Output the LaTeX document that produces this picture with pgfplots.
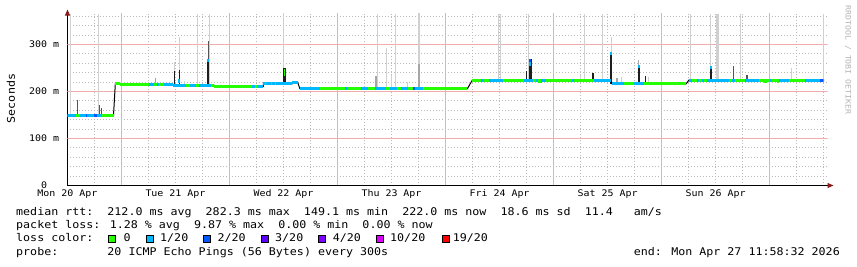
\documentclass[border=0pt]{standalone}
\usepackage{fontspec}
\setmainfont{DejaVu Sans Mono}
\newfontfamily\lgd[FakeStretch=1.1]{DejaVu Sans Mono}
\newcommand\lgdfont{\lgd\fontsize{10.6}{13}\selectfont}
\newcommand\tickfont{\lgd\fontsize{9.06}{11}\selectfont}
\newcommand\sidefont{\lgd\fontsize{7.5}{9}\selectfont}
\usepackage{pgfplots}
\pgfplotsset{compat=1.18}
\usetikzlibrary{arrows.meta}
\definecolor{c0}{HTML}{26FF00}
\definecolor{c1}{HTML}{00B8FF}
\definecolor{c2}{HTML}{0059FF}
\definecolor{c3}{HTML}{5E00FF}
\definecolor{c4}{HTML}{7E00FF}
\definecolor{c10}{HTML}{DD00FF}
\definecolor{c19}{HTML}{FF0000}
\definecolor{gridgray}{HTML}{BABABA}
\definecolor{gridred}{HTML}{F2AAAA}
\definecolor{smoke}{HTML}{D0D0D0}
\definecolor{smokemid}{HTML}{A6A6A6}
\definecolor{smokedark}{HTML}{1E1E1E}
\definecolor{smokedim}{HTML}{555555}
\definecolor{arrowred}{HTML}{8B1A1A}
\definecolor{sidegray}{HTML}{B4B4B4}
\tikzset{rgrid/.style={draw=gridred, line width=1pt}}
\begin{document}
\begin{tikzpicture}[x=1pt,y=1pt]
\path[use as bounding box] (0,0) rectangle (857,267);
\begin{axis}[
  at={(67.5pt,81.5pt)}, anchor=south west,
  scale only axis, width=760pt, height=172.96pt,
  xmin=0, xmax=7.037037, ymin=0, ymax=368,
  axis lines=left,
  axis line style={black, line width=1pt},
  every outer x axis line/.append style={-{Triangle[length=6pt,width=5pt,color=arrowred]}, shorten >=-6pt},
  every outer y axis line/.append style={-{Triangle[length=6pt,width=5pt,color=arrowred]}, shorten >=-3pt},
  major tick length=0pt, minor tick length=0pt,
  xtick={0,1,2,3,4,5,6},
  xticklabels={Mon 20 Apr,Tue 21 Apr,Wed 22 Apr,Thu 23 Apr,Fri 24 Apr,Sat 25 Apr,Sun 26 Apr},
  minor xtick={0.25,0.75,1,1.25,1.75,2,2.25,2.75,3,3.25,3.75,4,4.25,4.75,5,5.25,5.75,6,6.25,6.75,7},
  xmajorgrids=false, xminorgrids=true,
  ytick={0,100,200,300},
  yticklabels={0\phantom{~m},100~m,200~m,300~m},
  minor ytick={20,40,60,80,120,140,160,180,220,240,260,280,320,340,360},
  ymajorgrids=false, yminorgrids=true,
  minor grid style={draw=gridgray, line width=1pt, dash pattern=on 1pt off 2pt, dash phase=0.5pt},
  xticklabel style={font=\tickfont, anchor=base, inner sep=0pt, yshift=-11.5pt},
  yticklabel style={font=\tickfont, anchor=east, inner sep=0pt, xshift=-8.2pt},
  ylabel={Seconds},
  ylabel style={font=\lgdfont, at={(axis description cs:-0.0743,0.503)}, anchor=center},
  unbounded coords=jump,
]
% major (12 h / 100 ms) grid lines
\draw[rgrid] (axis cs:0.5,0) -- (axis cs:0.5,368);
\draw[rgrid] (axis cs:1.5,0) -- (axis cs:1.5,368);
\draw[rgrid] (axis cs:2.5,0) -- (axis cs:2.5,368);
\draw[rgrid] (axis cs:3.5,0) -- (axis cs:3.5,368);
\draw[rgrid] (axis cs:4.5,0) -- (axis cs:4.5,368);
\draw[rgrid] (axis cs:5.5,0) -- (axis cs:5.5,368);
\draw[rgrid] (axis cs:6.5,0) -- (axis cs:6.5,368);
\draw[rgrid] (axis cs:0,100) -- (axis cs:7.037037,100);
\draw[rgrid] (axis cs:0,200) -- (axis cs:7.037037,200);
\draw[rgrid] (axis cs:0,300) -- (axis cs:7.037037,300);
% light smoke
\addplot[smoke, line width=1pt] coordinates {
(0.030,149) (0.030,365) (0.030,nan)
(0.289,149) (0.289,365) (0.289,nan)
(0.991,213) (0.991,262) (0.991,nan)
(1.037,213) (1.037,316) (1.037,nan)
(1.080,213) (1.080,222) (1.080,nan)
(1.207,213) (1.207,365) (1.207,nan)
(1.314,213) (1.314,365) (1.314,nan)
(1.997,216) (1.997,366) (1.997,nan)
(2.874,206) (2.874,365) (2.874,nan)
(2.958,206) (2.958,292) (2.958,nan)
(2.998,206) (2.998,236) (2.998,nan)
(3.035,206) (3.035,365) (3.035,nan)
(3.146,206) (3.146,220) (3.146,nan)
(3.989,224) (3.989,365) (3.989,nan)
(4.011,224) (4.011,365) (4.011,nan)
(4.266,224) (4.266,365) (4.266,nan)
(4.753,224) (4.753,236) (4.753,nan)
(4.783,224) (4.783,365) (4.783,nan)
(4.952,224) (4.952,365) (4.952,nan)
(5.036,224) (5.036,315) (5.036,nan)
(5.128,216) (5.128,230) (5.128,nan)
(5.377,216) (5.377,230) (5.377,nan)
(5.768,224) (5.768,365) (5.768,nan)
(5.952,224) (5.952,365) (5.952,nan)
(6.230,224) (6.230,365) (6.230,nan)
(6.706,224) (6.706,251) (6.706,nan)
(6.999,224) (6.999,365) (6.999,nan)
};
\addplot[smoke, line width=2.5pt] coordinates {
(3.253,206) (3.253,366) (3.253,nan)
(6.018,224) (6.018,365) (6.018,nan)
};
\addplot[smokemid, line width=2pt] coordinates {
(2.860,206) (2.860,234) (2.860,nan)
(3.258,206) (3.258,258) (3.258,nan)
(5.085,216) (5.085,229) (5.085,nan)
};
\addplot[smokemid, line width=1pt] coordinates {
(5.291,216) (5.291,268) (5.291,nan)
(0.819,214) (0.819,228) (0.819,nan)
};
% dark smoke
\addplot[smokedim, line width=1.2pt] coordinates {
(0.090,149) (0.090,181) (0.090,nan)
(0.298,149) (0.298,172) (0.298,nan)
(0.312,149) (0.312,165) (0.312,nan)
(1.305,269) (1.305,308) (1.305,nan)
(6.168,224) (6.168,254) (6.168,nan)
(6.291,224) (6.291,236) (6.291,nan)
};
\addplot[smokedark, line width=1.3pt] coordinates {
(0.991,213) (0.991,244) (0.991,nan)
(1.035,213) (1.035,246) (1.035,nan)
(4.247,224) (4.247,244) (4.247,nan)
(5.349,216) (5.349,233) (5.349,nan)
};
\addplot[smokedark, line width=2.3pt] coordinates {
(1.302,213) (1.302,269) (1.302,nan)
(2.008,216) (2.008,251) (2.008,nan)
(4.286,224) (4.286,269) (4.286,nan)
(4.868,224) (4.868,240) (4.868,nan)
(5.032,216) (5.032,284) (5.032,nan)
(5.291,216) (5.291,256) (5.291,nan)
(5.957,224) (5.957,254) (5.957,nan)
};
% median path
\addplot[black, line width=1pt] coordinates {
(0,149) (0.426,149) (0.443,217.4) (0.489,217.4) (0.489,214) (0.980,214) (0.980,212.8)
(1.360,212.8) (1.360,211) (1.813,211) (1.813,216.4) (2.081,216.4) (2.081,218.5) (2.133,218.5)
(2.151,206.3) (2.844,206.3) (2.844,205.5) (2.952,205.5) (2.952,206.3) (3.703,206.3)
(3.749,224.2) (5.030,224.2) (5.042,216.4) (5.729,216.4) (5.753,224.2) (7.005,224.2)
};
% loss 0/20
\addplot[c0, line width=3pt] coordinates {
(0.083,149) (0.120,149) (0.120,nan)
(0.323,149) (0.426,149) (0.426,nan)
(0.443,217.4) (0.489,217.4) (0.489,nan)
(0.489,214) (0.751,214) (0.751,nan)
(0.797,214) (0.830,214) (0.830,nan)
(0.850,214) (0.889,214) (0.889,nan)
(1.100,212.8) (1.130,212.8) (1.130,nan)
(1.190,212.8) (1.220,212.8) (1.220,nan)
(1.330,212.8) (1.360,212.8) (1.360,nan)
(1.360,211) (1.705,211) (1.705,nan)
(1.735,211) (1.766,211) (1.766,nan)
(1.826,216.4) (1.840,216.4) (1.840,nan)
(1.880,216.4) (1.890,216.4) (1.890,nan)
(1.925,216.4) (1.935,216.4) (1.935,nan)
(2.336,206.3) (2.567,206.3) (2.567,nan)
(2.597,206.3) (2.721,206.3) (2.721,nan)
(2.782,206.3) (2.844,206.3) (2.844,nan)
(2.952,206.3) (2.990,206.3) (2.990,nan)
(3.050,206.3) (3.090,206.3) (3.090,nan)
(3.150,206.3) (3.200,206.3) (3.200,nan)
(3.290,206.3) (3.703,206.3) (3.703,nan)
(3.749,224.2) (3.829,224.2) (3.829,nan)
(3.859,224.2) (3.906,224.2) (3.906,nan)
(4.029,224.2) (4.229,224.2) (4.229,nan)
(4.306,224.2) (4.337,224.2) (4.337,nan)
(4.352,224.2) (4.383,224.2) (4.383,nan)
(4.429,224.2) (4.675,224.2) (4.675,nan)
(4.691,224.2) (4.875,224.2) (4.875,nan)
(5.152,216.4) (5.245,216.4) (5.245,nan)
(5.337,216.4) (5.729,216.4) (5.729,nan)
(5.783,224.2) (5.829,224.2) (5.829,nan)
(5.845,224.2) (5.876,224.2) (5.876,nan)
(5.891,224.2) (5.921,224.2) (5.921,nan)
(6.122,224.2) (6.153,224.2) (6.153,nan)
(6.183,224.2) (6.276,224.2) (6.276,nan)
(6.399,224.2) (6.507,224.2) (6.507,nan)
(6.522,224.2) (6.584,224.2) (6.584,nan)
(6.676,224.2) (6.830,224.2) (6.830,nan)
(4.352,222) (4.398,222) (4.398,nan)
(6.445,222) (6.476,222) (6.476,nan)
(6.568,222) (6.590,222) (6.590,nan)
};
% loss 1/20
\addplot[c1, line width=3pt] coordinates {
(0,149) (0.083,149) (0.083,nan)
(0.120,149) (0.250,149) (0.250,nan)
(0.277,149) (0.323,149) (0.323,nan)
(0.751,214) (0.797,214) (0.797,nan)
(0.830,214) (0.850,214) (0.850,nan)
(0.889,214) (0.980,214) (0.980,nan)
(0.980,212.8) (1.100,212.8) (1.100,nan)
(1.130,212.8) (1.190,212.8) (1.190,nan)
(1.220,212.8) (1.330,212.8) (1.330,nan)
(1.705,211) (1.735,211) (1.735,nan)
(1.766,211) (1.813,211) (1.813,nan)
(1.813,216.4) (1.826,216.4) (1.826,nan)
(1.840,216.4) (1.880,216.4) (1.880,nan)
(1.890,216.4) (1.925,216.4) (1.925,nan)
(1.935,216.4) (2.081,216.4) (2.081,nan)
(2.081,218.5) (2.133,218.5) (2.133,nan)
(2.151,206.3) (2.336,206.3) (2.336,nan)
(2.567,206.3) (2.597,206.3) (2.597,nan)
(2.721,206.3) (2.782,206.3) (2.782,nan)
(2.844,205.5) (2.952,205.5) (2.952,nan)
(2.990,206.3) (3.050,206.3) (3.050,nan)
(3.090,206.3) (3.150,206.3) (3.150,nan)
(3.215,206.3) (3.290,206.3) (3.290,nan)
(3.829,224.2) (3.859,224.2) (3.859,nan)
(3.906,224.2) (4.029,224.2) (4.029,nan)
(4.229,224.2) (4.306,224.2) (4.306,nan)
(4.337,224.2) (4.352,224.2) (4.352,nan)
(4.383,224.2) (4.429,224.2) (4.429,nan)
(4.675,224.2) (4.691,224.2) (4.691,nan)
(4.875,224.2) (5.030,224.2) (5.030,nan)
(5.042,216.4) (5.152,216.4) (5.152,nan)
(5.245,216.4) (5.337,216.4) (5.337,nan)
(5.753,224.2) (5.783,224.2) (5.783,nan)
(5.829,224.2) (5.845,224.2) (5.845,nan)
(5.876,224.2) (5.891,224.2) (5.891,nan)
(5.921,224.2) (6.122,224.2) (6.122,nan)
(6.153,224.2) (6.183,224.2) (6.183,nan)
(6.276,224.2) (6.399,224.2) (6.399,nan)
(6.507,224.2) (6.522,224.2) (6.522,nan)
(6.584,224.2) (6.676,224.2) (6.676,nan)
(6.830,224.2) (6.969,224.2) (6.969,nan)
(6.999,224.2) (7.005,224.2) (7.005,nan)
};
% loss 2/20
\addplot[c2, line width=3pt] coordinates {
(0.170,149) (0.185,149) (0.185,nan)
(0.250,149) (0.277,149) (0.277,nan)
(3.200,206.3) (3.215,206.3) (3.215,nan)
(6.969,224.2) (6.999,224.2) (6.999,nan)
};
% colours at spike tops
\addplot[c1, line width=2.2pt] coordinates {
(1.302,263) (1.302,269) (1.302,nan)
(5.032,277) (5.032,284) (5.032,nan)
(5.291,251) (5.291,257) (5.291,nan)
(5.957,247) (5.957,254) (5.957,nan)
(1.035,218) (1.035,226) (1.035,nan)
(4.280,255) (4.280,262) (4.280,nan)
};
\addplot[c2, line width=2.2pt] coordinates {
(4.286,262) (4.286,270) (4.286,nan)
};
\addplot[c0, line width=1pt] coordinates {
(2.010,233) (2.010,247) (2.010,nan)
};
\end{axis}
% legend text
\node[anchor=base west, inner sep=0pt, font=\lgdfont] at (16,51.7) {median rtt:~~212.0 ms avg~~282.3 ms max~~149.1 ms min~~222.0 ms now~~18.6 ms sd~~11.4~~~am/s};
\node[anchor=base west, inner sep=0pt, font=\lgdfont] at (16,38.3) {packet loss: 1.28 \% avg~~9.87 \% max~~0.00 \% min~~0.00 \% now};
\node[anchor=base west, inner sep=0pt, font=\lgdfont] at (16,25) {loss color:};
\draw[black, line width=0.8pt, fill=c0]  (108.3,24.3) rectangle ++(7.5,7.5);
\draw[black, line width=0.8pt, fill=c1]  (146.0,24.3) rectangle ++(7.5,7.5);
\draw[black, line width=0.8pt, fill=c2]  (203.3,24.3) rectangle ++(7.5,7.5);
\draw[black, line width=0.8pt, fill=c3]  (261.0,24.3) rectangle ++(7.5,7.5);
\draw[black, line width=0.8pt, fill=c4]  (318.3,24.3) rectangle ++(7.5,7.5);
\draw[black, line width=0.8pt, fill=c10] (376.0,24.3) rectangle ++(7.5,7.5);
\draw[black, line width=0.8pt, fill=c19] (442.3,24.3) rectangle ++(7.5,7.5);
\node[anchor=base west, inner sep=0pt, font=\lgdfont] at (123.3,25) {0};
\node[anchor=base west, inner sep=0pt, font=\lgdfont] at (160.0,25) {1/20};
\node[anchor=base west, inner sep=0pt, font=\lgdfont] at (217.3,25) {2/20};
\node[anchor=base west, inner sep=0pt, font=\lgdfont] at (275.0,25) {3/20};
\node[anchor=base west, inner sep=0pt, font=\lgdfont] at (332.7,25) {4/20};
\node[anchor=base west, inner sep=0pt, font=\lgdfont] at (390.0,25) {10/20};
\node[anchor=base west, inner sep=0pt, font=\lgdfont] at (452.7,25) {19/20};
\node[anchor=base west, inner sep=0pt, font=\lgdfont] at (16,11) {probe:~~~~~~~20 ICMP Echo Pings (56 Bytes) every 300s};
\node[anchor=base east, inner sep=0pt, font=\lgdfont] at (840,11) {end: Mon Apr 27 11:58:32 2026};
\node[rotate=-90, inner sep=0pt, font=\sidefont, text=sidegray] at (848,207) {RRDTOOL / TOBI OETIKER};
\end{tikzpicture}
\end{document}
